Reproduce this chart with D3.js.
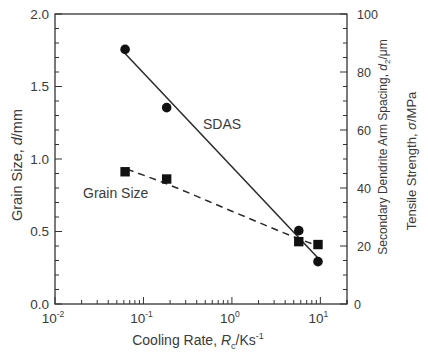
<!DOCTYPE html>
<html>
<head>
<meta charset="utf-8">
<script src="https://cdn.jsdelivr.net/npm/d3@7"></script>
<style>
  body { margin: 0; background: #fff; }
  text { font-family: "Liberation Sans", Arial, sans-serif; fill: #3a3a3a; }
</style>
</head>
<body>
<script>
// Data
const coolingRate = [0.062, 0.183, 5.7, 9.4];
const sdas = [87.8, 67.7, 25.3, 14.6];          // right axis, um
const grainSize = [0.912, 0.862, 0.43, 0.41];   // left axis, mm

// Fitted lines as drawn
const sdasFitX = [0.062, 9.4];
const sdasFitY = [86.4, 15.9];
const grainFitX = [0.065, 0.18, 1, 5.7, 9.4];
const grainFitY = [0.93, 0.83, 0.64, 0.45, 0.40];

const leftTicks = [0, 0.5, 1.0, 1.5, 2.0];
const rightTicks = [0, 20, 40, 60, 80, 100];
const xTicks = [0.01, 0.1, 1, 10];
const xTickExp = ['-2', '-1', '0', '1'];

const w = 428;
const h = 353;
const m = { left: 55, right: 81, top: 14, bottom: 49 };

const svg = d3.select('body').append('svg')
  .attr('width', w)
  .attr('height', h);

const x = d3.scaleLog().domain([0.01, 20]).range([m.left, w - m.right]);
const yL = d3.scaleLinear().domain([0, 2]).range([h - m.bottom, m.top]);
const yR = d3.scaleLinear().domain([0, 100]).range([h - m.bottom, m.top]);

const axisColor = '#333';

// Frame
svg.append('rect')
  .attr('x', m.left).attr('y', m.top)
  .attr('width', w - m.left - m.right)
  .attr('height', h - m.top - m.bottom)
  .attr('fill', 'none')
  .attr('stroke', axisColor)
  .attr('stroke-width', 1.3);

// Left axis ticks (inward)
const leftMinor = d3.range(0, 2.001, 0.1);
svg.append('g').selectAll('line')
  .data(leftMinor)
  .join('line')
  .attr('x1', m.left)
  .attr('x2', d => m.left + (leftTicks.some(t => Math.abs(t - d) < 1e-6) ? 7 : 4))
  .attr('y1', d => yL(d)).attr('y2', d => yL(d))
  .attr('stroke', axisColor);

svg.append('g').selectAll('text')
  .data(leftTicks)
  .join('text')
  .attr('x', m.left - 6)
  .attr('y', d => yL(d) + 4.5)
  .attr('text-anchor', 'end')
  .attr('font-size', 13.5)
  .text(d => d3.format('.1f')(d));

// Right axis ticks (inward)
const rightMinor = d3.range(0, 100.001, 5);
svg.append('g').selectAll('line')
  .data(rightMinor)
  .join('line')
  .attr('x1', w - m.right)
  .attr('x2', d => w - m.right - (d % 20 === 0 ? 7 : 4))
  .attr('y1', d => yR(d)).attr('y2', d => yR(d))
  .attr('stroke', axisColor);

svg.append('g').selectAll('text')
  .data(rightTicks)
  .join('text')
  .attr('x', d => w - m.right + (d === 0 ? 7 : 10))
  .attr('y', d => yR(d) + 4.5)
  .attr('text-anchor', 'start')
  .attr('font-size', 12.5)
  .text(d => d);

// Bottom axis ticks (inward), log minor ticks
const xMinor = [];
[0.01, 0.1, 1, 10].forEach(dec => {
  for (let k = 1; k <= 9; k++) {
    const v = dec * k;
    if (v <= 20) xMinor.push({ v, major: k === 1 });
  }
});
xMinor.push({ v: 20, major: false });
svg.append('g').selectAll('line')
  .data(xMinor)
  .join('line')
  .attr('x1', d => x(d.v)).attr('x2', d => x(d.v))
  .attr('y1', h - m.bottom)
  .attr('y2', d => h - m.bottom - (d.major ? 7 : 4))
  .attr('stroke', axisColor);

const xl = svg.append('g').selectAll('text')
  .data(xTicks)
  .join('text')
  .attr('x', d => x(d) - 2)
  .attr('y', h - m.bottom + 19)
  .attr('text-anchor', 'middle')
  .attr('font-size', 13.5);
xl.append('tspan').text('10');
xl.append('tspan')
  .attr('dy', -6)
  .attr('font-size', 8.5)
  .text((d, i) => xTickExp[i]);

// Axis titles
svg.append('text')
  .attr('x', (m.left + w - m.right) / 2 - 3)
  .attr('y', h - 8)
  .attr('text-anchor', 'middle')
  .attr('font-size', 14)
  .call(t => {
    t.append('tspan').text('Cooling Rate, ');
    t.append('tspan').attr('font-style', 'italic').text('R');
    t.append('tspan').attr('font-size', 9).attr('dy', 4).text('c');
    t.append('tspan').attr('dy', -4).text('/Ks');
    t.append('tspan').attr('font-size', 9).attr('dy', -6).text('-1');
  });

svg.append('text')
  .attr('transform', `translate(22,${165}) rotate(-90)`)
  .attr('text-anchor', 'middle')
  .attr('font-size', 14.5)
  .call(t => {
    t.append('tspan').text('Grain Size, ');
    t.append('tspan').attr('font-style', 'italic').text('d');
    t.append('tspan').text('/mm');
  });

svg.append('text')
  .attr('transform', `translate(387,${147}) rotate(-90)`)
  .attr('text-anchor', 'middle')
  .attr('font-size', 12)
  .call(t => {
    t.append('tspan').text('Secondary Dendrite Arm Spacing, ');
    t.append('tspan').attr('font-style', 'italic').text('d');
    t.append('tspan').attr('font-size', 8).attr('dy', 3).text('2');
    t.append('tspan').attr('dy', -3).text('/\u03bcm');
  });

svg.append('text')
  .attr('transform', `translate(416,${161}) rotate(-90)`)
  .attr('text-anchor', 'middle')
  .attr('font-size', 13)
  .call(t => {
    t.append('tspan').text('Tensile Strength, ');
    t.append('tspan').attr('font-style', 'italic').text('\u03c3');
    t.append('tspan').text('/MPa');
  });

// Fit lines
const lineR = d3.line().x(d => x(d[0])).y(d => yR(d[1]));
const lineL = d3.line().x(d => x(d[0])).y(d => yL(d[1])).curve(d3.curveMonotoneX);

svg.append('path')
  .attr('d', lineR(d3.zip(sdasFitX, sdasFitY)))
  .attr('fill', 'none')
  .attr('stroke', '#2a2a2a')
  .attr('stroke-width', 1.5);

svg.append('path')
  .attr('d', lineL(d3.zip(grainFitX, grainFitY)))
  .attr('fill', 'none')
  .attr('stroke', '#2a2a2a')
  .attr('stroke-width', 1.5)
  .attr('stroke-dasharray', '7,5');

// Markers
svg.append('g').selectAll('circle')
  .data(d3.zip(coolingRate, sdas))
  .join('circle')
  .attr('cx', d => x(d[0]))
  .attr('cy', d => yR(d[1]))
  .attr('r', 4.8)
  .attr('fill', '#111');

svg.append('g').selectAll('rect')
  .data(d3.zip(coolingRate, grainSize))
  .join('rect')
  .attr('x', d => x(d[0]) - 4.7)
  .attr('y', d => yL(d[1]) - 4.7)
  .attr('width', 9.4)
  .attr('height', 9.4)
  .attr('fill', '#111');

// Series labels
svg.append('text')
  .attr('x', 203).attr('y', 129)
  .attr('font-size', 14)
  .text('SDAS');

svg.append('text')
  .attr('x', 83).attr('y', 198)
  .attr('font-size', 14)
  .text('Grain Size');
</script>
</body>
</html>
